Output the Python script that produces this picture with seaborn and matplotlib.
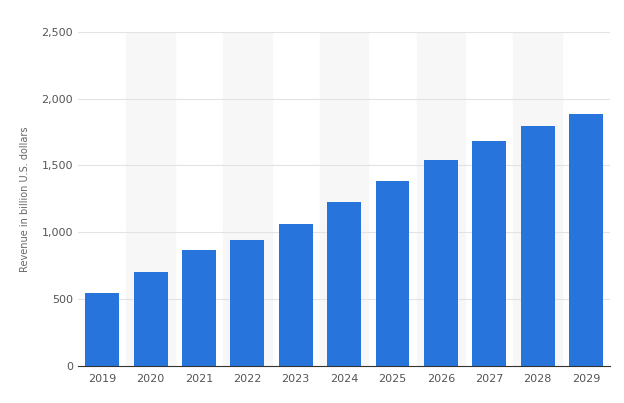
import matplotlib
matplotlib.use("Agg")
import matplotlib.pyplot as plt
import seaborn as sns
import pandas as pd

years = ["2019","2020","2021","2022","2023","2024","2025","2026","2027","2028","2029"]
revenue = [545, 700, 866, 946, 1062, 1224, 1382, 1542, 1682, 1798, 1882]
yticks = [0, 500, 1000, 1500, 2000, 2500]

df = pd.DataFrame({"year": years, "revenue": revenue})
sns.set_style("white")
fig = plt.figure(figsize=(6.24, 4.03), dpi=100)
ax = fig.add_axes([0.125, 0.092, 0.853, 0.829])
for i in range(1, len(years), 2):
    ax.axvspan(i - 0.5, i + 0.5, color="#f7f7f7", zorder=0)
for t in yticks[1:]:
    ax.axhline(t, color="#e3e3e3", lw=0.8, zorder=0.5)
sns.barplot(data=df, x="year", y="revenue", color="#2775dc", saturation=1, width=0.7,
            linewidth=0, ax=ax, zorder=2)
ax.set_xlim(-0.5, len(years) - 0.5)
ax.set_ylim(0, 2500)
ax.set_yticks(yticks)
ax.set_yticklabels([f"{t:,}" for t in yticks])
ax.tick_params(axis="both", labelsize=8, colors="#555555", length=0)
ax.tick_params(axis="x", pad=6)
ax.set_xlabel("")
ax.set_ylabel("Revenue in billion U.S. dollars", fontsize=7, color="#666666", labelpad=8)
for s in ["top", "right", "left"]:
    ax.spines[s].set_visible(False)
ax.spines["bottom"].set_color("#333333")
ax.spines["bottom"].set_linewidth(0.8)
fig.savefig("out.png", dpi=100)
